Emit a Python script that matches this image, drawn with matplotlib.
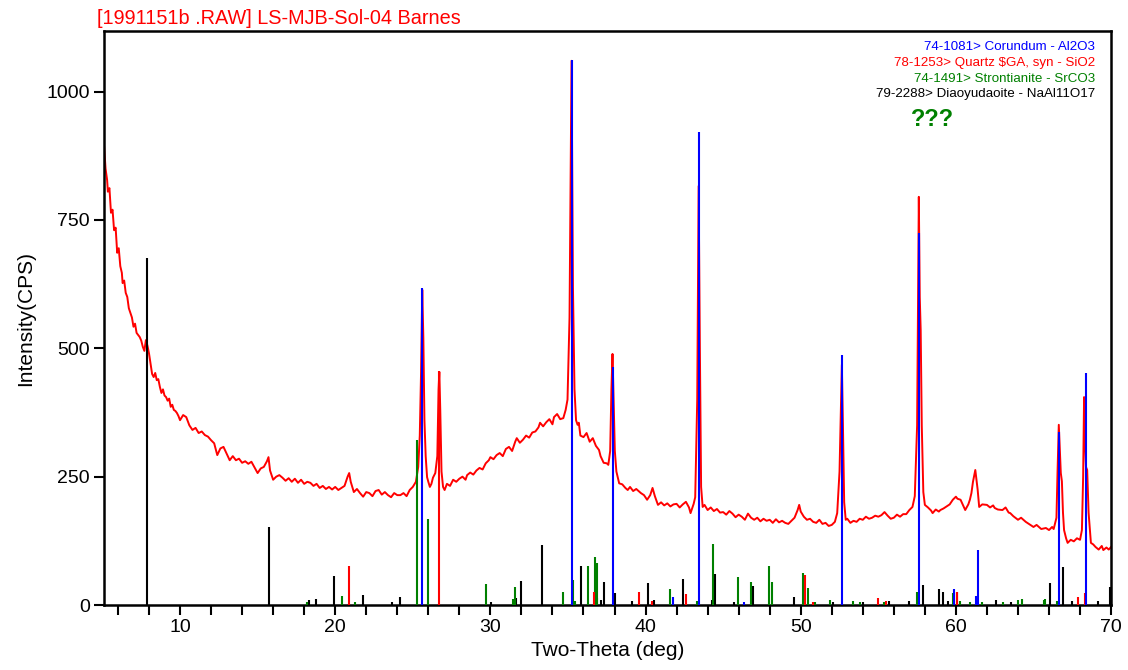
import numpy as np
import matplotlib
matplotlib.use('Agg')
import matplotlib.pyplot as plt

plt.rcParams['font.family'] = ['Liberation Sans', 'DejaVu Sans']

# measured pattern (two-theta, counts per second)
two_theta = [
    5.10, 5.20, 5.30, 5.35, 5.45, 5.55, 5.65, 5.75, 5.85, 5.95, 6.05, 6.15, 6.25, 6.30, 6.40, 6.50,
    6.60, 6.70, 6.80, 6.90, 7.00, 7.10, 7.20, 7.30, 7.40, 7.50, 7.60, 7.70, 7.80, 7.90, 8.00, 8.10,
    8.20, 8.30, 8.40, 8.50, 8.60, 8.70, 8.80, 8.90, 9.00, 9.10, 9.20, 9.30, 9.40, 9.50, 9.60, 9.70,
    9.80, 9.90, 10.0, 10.2, 10.4, 10.6, 10.8, 11.0, 11.2, 11.4, 11.6, 11.8, 12.0, 12.2, 12.4, 12.6,
    12.8, 13.0, 13.2, 13.4, 13.6, 13.8, 14.0, 14.2, 14.4, 14.6, 14.8, 15.0, 15.2, 15.4, 15.6, 15.7,
    15.8, 16.0, 16.2, 16.4, 16.6, 16.8, 17.0, 17.2, 17.4, 17.6, 17.8, 18.0, 18.2, 18.4, 18.6, 18.8,
    19.0, 19.2, 19.4, 19.6, 19.8, 20.0, 20.2, 20.4, 20.6, 20.8, 20.9, 21.0, 21.2, 21.4, 21.6, 21.8,
    22.0, 22.2, 22.4, 22.6, 22.8, 23.0, 23.2, 23.4, 23.6, 23.8, 24.0, 24.2, 24.4, 24.6, 24.8, 25.0,
    25.2, 25.35, 25.45, 25.53, 25.61, 25.68, 25.75, 25.83, 25.92, 26.0, 26.1, 26.2, 26.3, 26.45,
    26.58, 26.66, 26.71, 26.77, 26.85, 26.95, 27.05, 27.2, 27.4, 27.6, 27.8, 28.0, 28.2, 28.4, 28.5,
    28.7, 28.9, 29.1, 29.3, 29.5, 29.7, 29.9, 30.0, 30.2, 30.4, 30.6, 30.8, 31.0, 31.2, 31.4, 31.6,
    31.7, 31.9, 32.1, 32.3, 32.5, 32.7, 32.9, 33.1, 33.2, 33.4, 33.6, 33.8, 34.0, 34.1, 34.3, 34.5,
    34.7, 34.85, 34.97, 35.1, 35.23, 35.32, 35.42, 35.52, 35.62, 35.7, 35.8, 36.0, 36.2, 36.4, 36.6,
    36.8, 37.0, 37.1, 37.3, 37.5, 37.6, 37.72, 37.8, 37.87, 37.94, 38.02, 38.12, 38.3, 38.5, 38.7,
    38.85, 39.0, 39.2, 39.4, 39.7, 39.9, 40.1, 40.3, 40.45, 40.6, 40.8, 41.0, 41.2, 41.4, 41.6, 41.8,
    42.0, 42.2, 42.4, 42.6, 42.8, 42.9, 43.0, 43.1, 43.2, 43.33, 43.42, 43.5, 43.58, 43.68, 43.8,
    44.0, 44.2, 44.4, 44.6, 44.8, 45.0, 45.2, 45.4, 45.6, 45.8, 46.0, 46.2, 46.4, 46.6, 46.8, 47.0,
    47.2, 47.4, 47.6, 47.8, 48.0, 48.2, 48.4, 48.6, 48.8, 49.0, 49.2, 49.4, 49.6, 49.8, 49.9, 50.0,
    50.2, 50.4, 50.6, 50.8, 51.0, 51.2, 51.4, 51.6, 51.8, 52.0, 52.2, 52.35, 52.5, 52.65, 52.72,
    52.8, 52.9, 53.0, 53.2, 53.4, 53.6, 53.8, 54.0, 54.2, 54.4, 54.6, 54.8, 55.0, 55.2, 55.4, 55.6,
    55.8, 56.0, 56.2, 56.4, 56.6, 56.8, 57.0, 57.2, 57.35, 57.5, 57.61, 57.67, 57.73, 57.8, 57.9,
    58.0, 58.2, 58.4, 58.5, 58.7, 58.9, 59.0, 59.2, 59.4, 59.6, 59.8, 60.0, 60.1, 60.3, 60.5, 60.6,
    60.8, 60.9, 61.0, 61.1, 61.25, 61.4, 61.5, 61.7, 62.0, 62.2, 62.4, 62.5, 62.7, 63.0, 63.2, 63.4,
    63.5, 63.7, 64.0, 64.2, 64.5, 64.7, 65.0, 65.2, 65.5, 65.8, 66.0, 66.2, 66.3, 66.48, 66.55,
    66.63, 66.7, 66.76, 66.83, 66.9, 66.97, 67.1, 67.2, 67.4, 67.6, 67.8, 68.0, 68.12, 68.2, 68.26,
    68.32, 68.38, 68.46, 68.55, 68.7, 68.85, 69.0, 69.2, 69.4, 69.5, 69.7, 69.85, 70.0,
]
cps = [
    896, 850, 828, 805, 812, 764, 770, 730, 735, 686, 695, 660, 647, 627, 632, 608,
    600, 578, 569, 560, 542, 548, 530, 526, 522, 515, 503, 495, 516, 505, 490, 470,
    450, 444, 452, 438, 440, 425, 413, 420, 408, 405, 398, 402, 386, 390, 380, 378,
    374, 368, 360, 370, 366, 350, 341, 345, 335, 338, 331, 328, 321, 315, 292, 305,
    308, 295, 282, 290, 282, 285, 277, 280, 275, 279, 268, 257, 266, 269, 280, 288,
    262, 244, 250, 253, 248, 242, 247, 240, 246, 238, 244, 236, 240, 238, 232, 236,
    228, 232, 226, 230, 225, 230, 224, 228, 232, 250, 257, 240, 220, 226, 218, 211,
    220, 218, 212, 222, 224, 215, 220, 214, 210, 218, 214, 214, 218, 212, 224, 230,
    240, 269, 330, 450, 614, 520, 360, 290, 249, 240, 230, 236, 248, 257,
    290, 420, 454, 380, 260, 230, 224, 236, 232, 244, 240, 246, 250, 244, 253,
    258, 254, 262, 267, 264, 276, 282, 288, 284, 292, 296, 290, 304, 308, 300, 318,
    325, 316, 322, 330, 326, 336, 338, 346, 355, 348, 356, 362, 352, 366, 372, 362,
    364, 380, 400, 560, 1060, 620, 420, 360, 351, 355, 330, 327, 335, 318, 325,
    310, 302, 290, 277, 276, 273, 300, 420, 489, 400, 300, 260, 237, 235, 228,
    224, 230, 222, 226, 218, 214, 205, 214, 228, 212, 195, 200, 194, 198, 192, 196,
    197, 190, 196, 201, 190, 179, 188, 197, 210, 400, 816, 500, 230, 191, 195,
    185, 190, 183, 187, 180, 181, 176, 183, 178, 171, 176, 172, 166, 178, 170, 166,
    170, 163, 168, 164, 166, 160, 167, 161, 164, 160, 158, 164, 170, 185, 195, 182,
    172, 166, 168, 162, 160, 166, 158, 160, 154, 156, 162, 179, 260, 468, 350,
    200, 166, 168, 160, 164, 162, 168, 166, 172, 168, 170, 174, 172, 175, 181, 174,
    168, 170, 176, 172, 177, 177, 185, 191, 212, 350, 795, 600, 536, 350, 220,
    195, 190, 184, 179, 186, 182, 185, 188, 192, 196, 205, 211, 207, 205, 192, 185,
    196, 205, 218, 240, 263, 225, 191, 196, 195, 190, 194, 189, 186, 185, 190, 180,
    179, 173, 166, 170, 162, 158, 152, 156, 148, 150, 146, 152, 148, 170, 260,
    351, 300, 257, 241, 180, 146, 130, 121, 127, 124, 130, 127, 146, 250, 405,
    320, 269, 263, 180, 121, 118, 113, 108, 115, 107, 112, 108, 113,
]

# reference stick patterns
corundum_pos = [25.61, 35.23, 37.87, 41.74, 43.42, 46.32, 52.65, 57.61, 59.87, 61.29, 61.42, 66.65, 68.39]
corundum_int = [617, 1062, 464, 15, 921, 6, 487, 725, 31, 18, 107, 337, 452]

quartz_pos = [20.90, 26.71, 36.65, 39.55, 40.39, 42.58, 50.26, 50.77, 54.97, 55.48, 60.06, 67.87, 68.32]
quartz_int = [76, 455, 25, 25, 8, 21, 58, 5, 14, 8, 25, 16, 23]

stront_pos = [18.19, 20.45, 21.29, 25.29, 26.0, 29.74, 31.48, 31.61, 34.71, 35.35, 35.48, 36.32, 36.77,
              36.90, 41.55, 43.29, 44.32, 45.94, 46.77, 47.94, 48.13, 50.13, 50.45, 50.90, 51.87, 53.35,
              53.81, 55.35, 57.48, 59.81, 60.26, 60.90, 61.68, 63.03, 64.0, 64.26, 65.68, 65.74, 66.52]
stront_int = [5, 18, 5, 321, 168, 41, 12, 35, 25, 49, 8, 76, 94,
              82, 31, 8, 119, 55, 45, 76, 45, 62, 33, 5, 10, 8,
              5, 6, 25, 23, 8, 6, 6, 6, 10, 12, 10, 12, 8]

diaoyu_pos = [7.87, 15.74, 18.32, 18.77, 19.94, 21.81, 23.68, 24.19, 30.06, 31.68, 32.0, 33.35, 35.81,
              36.84, 37.10, 37.29, 38.0, 39.10, 40.13, 40.52, 42.39, 44.26, 44.45, 45.68, 46.90, 49.55,
              52.06, 54.0, 55.68, 56.97, 57.87, 58.90, 59.16, 59.48, 60.06, 62.58, 63.55, 66.06, 66.90,
              67.48, 69.16, 69.94]
diaoyu_int = [676, 152, 10, 12, 57, 19, 5, 16, 5, 14, 47, 117, 76,
              14, 10, 45, 23, 8, 43, 10, 51, 10, 60, 5, 37, 16,
              5, 5, 8, 8, 39, 31, 25, 8, 25, 10, 5, 43, 74,
              8, 8, 35]

legend_labels = ['74-1081> Corundum - Al2O3', '78-1253> Quartz $GA, syn - SiO2',
                 '74-1491> Strontianite - SrCO3', '79-2288> Diaoyudaoite - NaAl11O17']
legend_colors = ['#0000ff', '#ff0000', '#008000', '#000000']

x_ticks = list(range(6, 71, 2))
x_labels = [str(t) if t % 10 == 0 else '' for t in x_ticks]
y_ticks = [0, 250, 500, 750, 1000]

fig = plt.figure(figsize=(11.28, 6.70), dpi=100)
ax = fig.add_axes([0.0922, 0.097, 0.8928, 0.8567])

ax.plot(two_theta, cps, color='#ff0000', linewidth=1.4, zorder=2)

ax.vlines(diaoyu_pos, 0, diaoyu_int, colors='#000000', linewidth=1.5, zorder=3)
ax.vlines(stront_pos, 0, stront_int, colors='#008000', linewidth=1.5, zorder=3)
ax.vlines(quartz_pos, 0, quartz_int, colors='#ff0000', linewidth=1.5, zorder=3)
ax.vlines(corundum_pos, 0, corundum_int, colors='#0000ff', linewidth=1.5, zorder=4)

ax.set_xlim(5.1, 70)
ax.set_ylim(0, 1118)

ax.set_xticks(x_ticks)
ax.set_xticklabels(x_labels)
ax.set_yticks(y_ticks)
ax.tick_params(axis='both', direction='out', length=7, width=1.5, labelsize=14, pad=3)

for s in ax.spines.values():
    s.set_linewidth(1.8)

ax.set_xlabel('Two-Theta (deg)', fontsize=15, labelpad=4)
ax.set_ylabel('Intensity(CPS)', fontsize=15, labelpad=8)

fig.text(97 / 1128, 1 - 18 / 670, '[1991151b .RAW] LS-MJB-Sol-04 Barnes', color='#ff0000',
         fontsize=14.3, ha='left', va='center')

for i, (lab, col) in enumerate(zip(legend_labels, legend_colors)):
    ax.text(0.984, 0.972 - i * 0.0275, lab, color=col, fontsize=9.6, ha='right', va='center',
            transform=ax.transAxes)

ax.text(0.823, 0.845, '???', color='#008000', fontsize=17, fontweight='bold', ha='center',
        va='center', transform=ax.transAxes)

fig.savefig('out.png', dpi=100)
